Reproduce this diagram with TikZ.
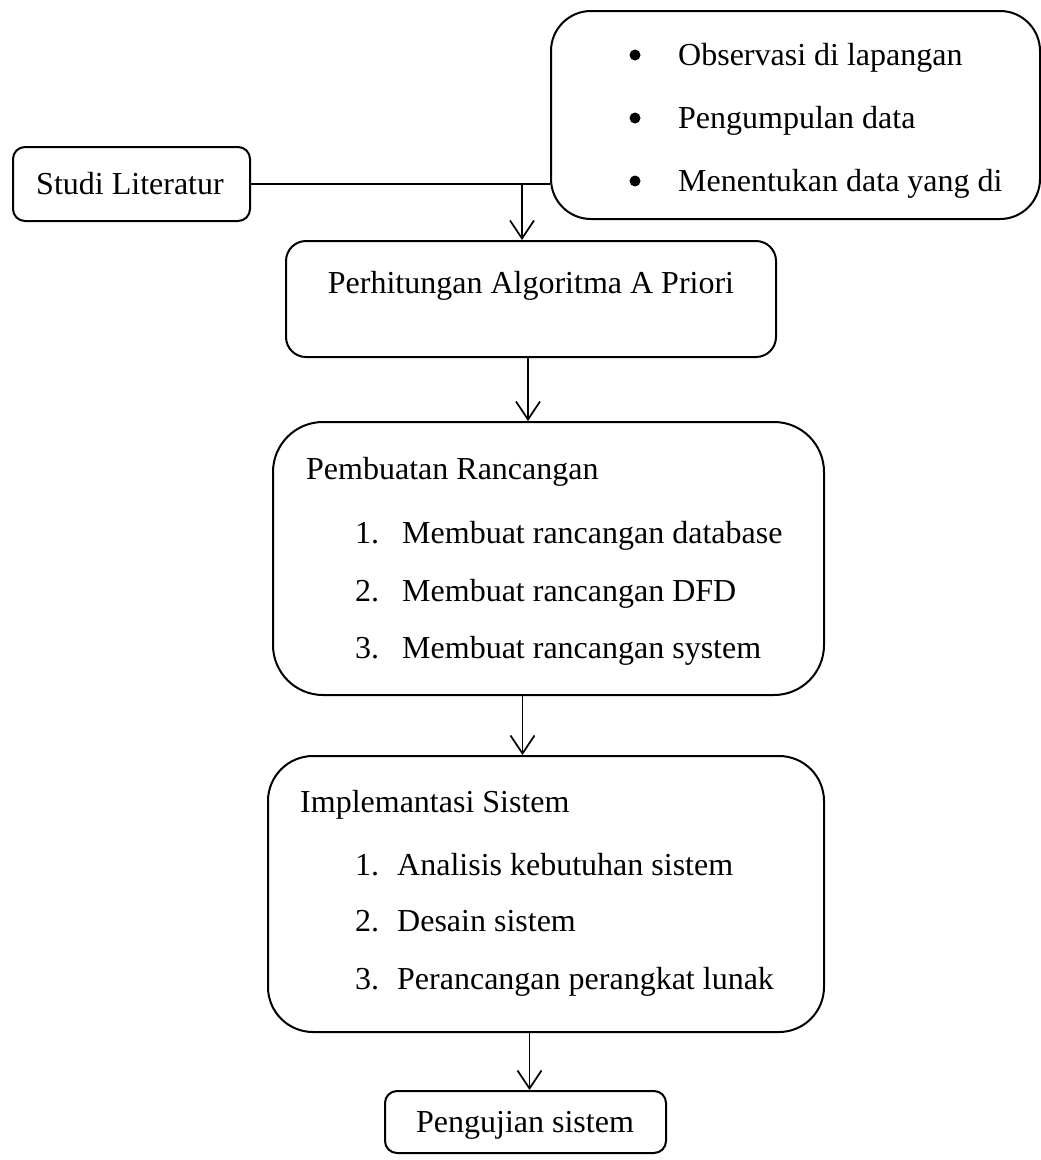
\documentclass[tikz,border=0pt]{standalone}
\usepackage{fontspec}
\setmainfont{Liberation Serif}
\usetikzlibrary{arrows.meta}
\begin{document}
\begin{tikzpicture}[x=1pt,y=-1pt,
  box/.style={draw, line width=2pt, anchor=north west, inner sep=0pt},
  txt/.style={anchor=base west, inner sep=0pt, font=\fontsize{32}{38}\selectfont},
  ctxt/.style={anchor=base, inner sep=0pt, font=\fontsize{32}{38}\selectfont},
  bullet/.style={circle, fill, inner sep=0pt, minimum size=11pt},
  conn/.style={line width=1.4pt},
  arr/.style={line width=1.7pt, -{Straight Barb[length=18pt,width=24pt,line width=1.7pt]}}]
\useasboundingbox (0,0) rectangle (1041,1160);
% boxes
\node[box, rounded corners=12pt, minimum width=237pt, minimum height=74pt] (studi) at (12,146) {};
\node[box, rounded corners=40pt, minimum width=489pt, minimum height=208pt] (obs) at (550,10) {};
\node[box, rounded corners=20pt, minimum width=490pt, minimum height=116pt] (perh) at (285,240) {};
\node[box, rounded corners=50pt, minimum width=551pt, minimum height=273pt] (pemb) at (272,421) {};
\node[box, rounded corners=45pt, minimum width=556pt, minimum height=276pt] (impl) at (267,755) {};
\node[box, rounded corners=12pt, minimum width=281pt, minimum height=62pt] (peng) at (384,1090) {};
% texts
\node[ctxt] (tstudi) at (130,194) {Studi Literatur};
\node[bullet] (b1) at (635,55) {};
\node[bullet] (b2) at (635,118) {};
\node[bullet] (b3) at (635,181) {};
\node[txt] (o1) at (678,65) {Observasi di lapangan};
\node[txt] (o2) at (678,128) {Pengumpulan data};
\node[txt] (o3) at (678,191) {Menentukan data yang di};
\node[ctxt] (tperh) at (531,293) {Perhitungan Algoritma A Priori};
\node[txt] (tpemb) at (306,479) {Pembuatan Rancangan};
\node[txt] (pn1) at (355,543) {1.};
\node[txt] (pn2) at (355,601) {2.};
\node[txt] (pn3) at (355,658) {3.};
\node[txt] (p1) at (402,543) {Membuat rancangan database};
\node[txt] (p2) at (402,601) {Membuat rancangan DFD};
\node[txt] (p3) at (402,658) {Membuat rancangan system};
\node[txt] (timpl) at (300,812) {Implemantasi Sistem};
\node[txt] (in1) at (355,875) {1.};
\node[txt] (in2) at (355,931) {2.};
\node[txt] (in3) at (355,989) {3.};
\node[txt] (i1) at (397,875) {Analisis kebutuhan sistem};
\node[txt] (i2) at (397,931) {Desain sistem};
\node[txt] (i3) at (397,989) {Perancangan perangkat lunak};
\node[ctxt] (tpeng) at (525,1132) {Pengujian sistem};
% connectors
\draw[conn] (studi.east) -- (studi.east -| obs.west);
\coordinate (junc) at ([xshift=-9pt]perh.north |- studi.east);
\draw[arr] (junc) -- (junc |- perh.north);
\draw[arr] ([xshift=-3pt]perh.south) -- ([xshift=-3pt]perh.south |- pemb.north);
\draw[arr] ([xshift=-26pt]pemb.south) -- ([xshift=-26pt]pemb.south |- impl.north);
\draw[arr] ([xshift=4pt]peng.north |- impl.south) -- ([xshift=4pt]peng.north);
\end{tikzpicture}
\end{document}
